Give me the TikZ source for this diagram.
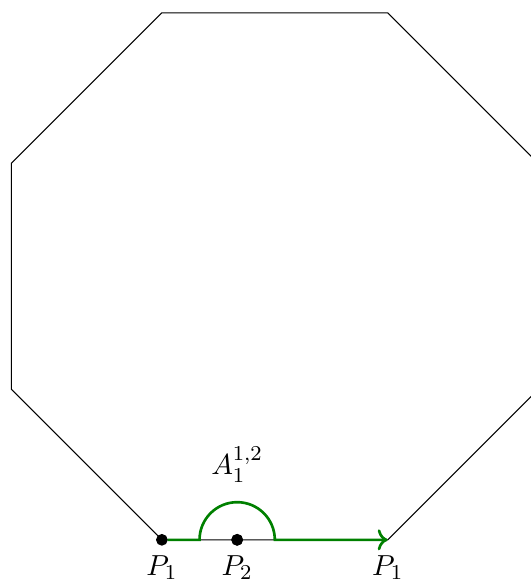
\documentclass[11pt,tikz,border=0pt]{standalone}
\usepackage{amsmath,amssymb}
\usepackage{tikz}
\usetikzlibrary{arrows.meta,calc,positioning}

\begin{document}
\begin{tikzpicture}[
  dot/.style={draw, circle, fill, inner sep=0pt, minimum size=4pt},
  mark point/.style={inner sep=0pt, minimum size=4pt},
  loop path/.style={green!50!black, line width=1pt, ->}]

\useasboundingbox (-2.15,-0.6) rectangle (4.89,7.17);

% octagon corners
\coordinate (v1) at (0,0);
\coordinate (v2) at (3,0);
\coordinate (v3) at (5,2);
\coordinate (v4) at (5,5);
\coordinate (v5) at (3,7);
\coordinate (v6) at (0,7);
\coordinate (v7) at (-2,5);
\coordinate (v8) at (-2,2);
\draw (v1) -- (v2) -- (v3) -- (v4) -- (v5) -- (v6) -- (v7) -- (v8) -- cycle;

% points on the bottom side
\node[dot, label=below:$P_1$] (p1) at (v1) {};
\node[dot, label=below:$P_2$] (p2) at (1,0) {};
\node[mark point, label=below:$P_1$] (p1r) at (v2) {};

% path round P2
\draw[loop path] (p1) -- (0.5,0) arc[start angle=180, end angle=0, radius=0.5] -- (p1r.center);
\node[dot] at (p2) {};
\node (alabel) at (1,1) {$A_1^{1,2}$};

\end{tikzpicture}
\end{document}
